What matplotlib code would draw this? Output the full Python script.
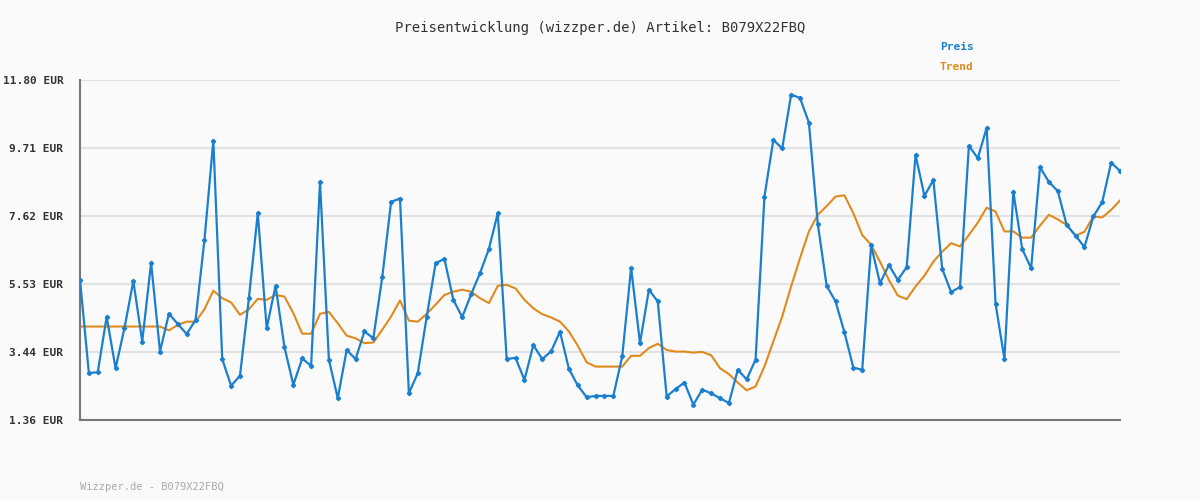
import numpy as np
import matplotlib.pyplot as plt

# =========================
# DATA
# =========================
preis = [5.66, 2.80, 2.83, 4.53, 2.95, 4.18, 5.63, 3.77, 6.19, 3.46,
         4.62, 4.31, 4.00, 4.43, 6.89, 9.94, 3.23, 2.41, 2.72, 5.10,
         7.71, 4.18, 5.48, 3.60, 2.44, 3.25, 3.02, 8.67, 3.21, 2.03,
         3.51, 3.23, 4.08, 3.87, 5.74, 8.06, 8.16, 2.18, 2.80, 4.52,
         6.17, 6.31, 5.05, 4.52, 5.22, 5.87, 6.61, 7.71, 3.23, 3.27,
         2.59, 3.66, 3.23, 3.47, 4.07, 2.93, 2.42, 2.06, 2.10, 2.10,
         2.10, 3.31, 6.03, 3.72, 5.36, 5.00, 2.08, 2.31, 2.51, 1.83,
         2.29, 2.18, 2.03, 1.88, 2.90, 2.61, 3.21, 8.22, 9.96, 9.70,
         11.35, 11.25, 10.49, 7.38, 5.48, 5.00, 4.05, 2.97, 2.90, 6.72,
         5.56, 6.12, 5.66, 6.05, 9.50, 8.24, 8.73, 6.00, 5.29, 5.44,
         9.78, 9.40, 10.33, 4.93, 3.23, 8.36, 6.61, 6.02, 9.12, 8.67,
         8.39, 7.35, 7.02, 6.67, 7.61, 8.05, 9.26, 9.01]

trend = [4.23] * 10 + [
         4.11, 4.28, 4.38, 4.38, 4.76, 5.33, 5.10, 4.97, 4.59, 4.76,
         5.08, 5.05, 5.20, 5.15, 4.64, 4.01, 4.01, 4.62, 4.68, 4.33,
         3.95, 3.87, 3.72, 3.74, 4.13, 4.54, 5.03, 4.41, 4.38, 4.62,
         4.90, 5.20, 5.30, 5.36, 5.30, 5.10, 4.95, 5.48, 5.51, 5.40,
         5.05, 4.79, 4.61, 4.51, 4.38, 4.08, 3.64, 3.13, 3.00, 3.00,
         3.00, 3.00, 3.33, 3.33, 3.57, 3.70, 3.51, 3.46, 3.46, 3.43,
         3.45, 3.35, 2.95, 2.77, 2.51, 2.27, 2.39, 3.00, 3.77, 4.54,
         5.46, 6.33, 7.15, 7.66, 7.93, 8.22, 8.26, 7.71, 7.04, 6.74,
         6.22, 5.66, 5.18, 5.07, 5.46, 5.79, 6.22, 6.53, 6.79, 6.69,
         7.04, 7.42, 7.88, 7.76, 7.15, 7.15, 6.96, 6.96, 7.33, 7.66,
         7.52, 7.35, 7.02, 7.14, 7.61, 7.58, 7.81, 8.10]

yticks = [1.36, 3.44, 5.53, 7.62, 9.71, 11.80]
ytick_labels = ["1.36 EUR", "3.44 EUR", "5.53 EUR", "7.62 EUR", "9.71 EUR", "11.80 EUR"]

# =========================
# PLOT
# =========================
bg = "#fafafa"
mono = "DejaVu Sans Mono"
x = np.arange(len(preis))

fig = plt.figure(figsize=(12, 5), dpi=100, facecolor=bg)
ax = fig.add_axes([80/1200, 80/500, 1040/1200, 340/500], facecolor=bg)

ax.plot(x, trend, color="#e08a1e", lw=1.5, zorder=2)
ax.plot(x, preis, color="#1a7fcf", lw=1.6, marker="D", markersize=2.2, zorder=3)

ax.set_xlim(0, len(preis) - 1)
ax.set_ylim(1.36, 11.80)
ax.set_yticks(yticks)
ax.set_yticklabels(ytick_labels, fontfamily=mono, fontsize=8, fontweight="bold", color="#333333")
ax.set_xticks([])
ax.tick_params(axis="y", length=0, pad=12)
ax.grid(axis="y", color="#e2e2e2", lw=1.5)
ax.set_axisbelow(True)
for s in ["top", "right"]:
    ax.spines[s].set_visible(False)
for s in ["left", "bottom"]:
    ax.spines[s].set_color("#777777")
    ax.spines[s].set_linewidth(1.5)

fig.text(0.5, 1 - 28/500, "Preisentwicklung (wizzper.de) Artikel: B079X22FBQ",
         ha="center", va="center", fontfamily=mono, fontsize=10, color="#333333")
fig.text(940/1200, 1 - 47/500, "Preis", fontfamily=mono, fontsize=8,
         fontweight="bold", color="#1a7fcf", va="center")
fig.text(940/1200, 1 - 67/500, "Trend", fontfamily=mono, fontsize=8,
         fontweight="bold", color="#e08a1e", va="center")
fig.text(80/1200, 1 - 487/500, "Wizzper.de - B079X22FBQ", fontfamily=mono,
         fontsize=7.5, color="#aaaaaa", va="center")

plt.savefig("out.png", dpi=100, facecolor=bg)
